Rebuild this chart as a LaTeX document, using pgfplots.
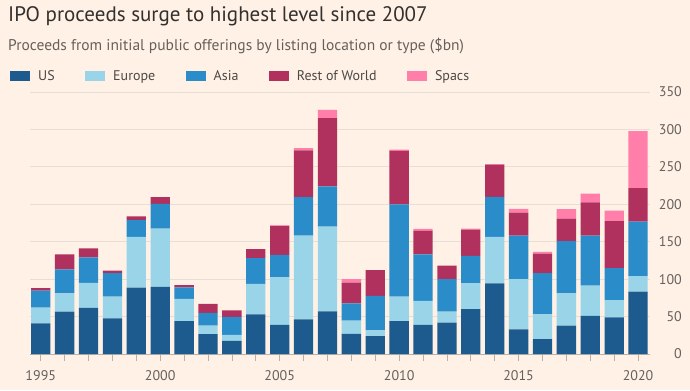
\documentclass[border=0pt]{standalone}
\usepackage{pgfplots}
\pgfplotsset{compat=1.18}
\usepackage{pgfplotstable}
\usepackage{fontspec}
\setmainfont{PT Sans}
\definecolor{bgc}{HTML}{FFF1E5}
\definecolor{cus}{HTML}{1D5A8E}
\definecolor{ceu}{HTML}{9AD4E8}
\definecolor{cas}{HTML}{2B8CCA}
\definecolor{crw}{HTML}{B0315E}
\definecolor{csp}{HTML}{FF7FAA}
\definecolor{gridc}{HTML}{E9DED5}
\definecolor{titc}{HTML}{33302E}
\definecolor{subc}{HTML}{66605C}
\definecolor{legc}{HTML}{4D4845}
\definecolor{axc}{HTML}{B8B2AC}

\pgfplotstableread{
year US Eu As RoW Sp
1995 41 21 22.7 3.3 0
1996 56.6 24.4 32 20 0
1997 61.5 33.5 34 12 0
1998 47.7 29 31.3 3.5 0
1999 88.7 67.8 22.5 5 0
2000 89.6 78 33 8.9 0
2001 44 29.6 15.4 3 0
2002 26.7 11.3 17 12 0
2003 17.4 8 24.1 8.9 0
2004 53 40.6 34.4 12 0
2005 39 63.5 29.9 38.6 0.8
2006 46.4 111.6 51.5 62.5 3
2007 57 113 54 91 11
2008 27 17.6 23.2 27.6 4.6
2009 24 7.6 46 34.4 0
2010 44 32.7 123.3 71.5 1.5
2011 39 32 62 31.5 2.5
2012 42 14.6 43.4 18 0
2013 60 34.5 36.5 35 1.6
2014 94.5 62 53.5 43 0.5
2015 33 67 58 31 5
2016 20 33 55 26 2.4
2017 38 43 69.7 30.3 12.5
2018 51 40.4 66.6 44.4 12
2019 49 23 42.6 62.8 14.3
2020 83.4 20.6 73 44.6 76.2
}\ipo

\begin{document}
\begin{tikzpicture}[x=1bp,y=1bp]
\fill[bgc] (0,0) rectangle (690,390);
\node[anchor=west, inner sep=0, text=titc, font=\fontsize{21bp}{25bp}\selectfont] at (8,374) {IPO proceeds surge to highest level since 2007};
\node[anchor=west, inner sep=0, text=subc, font=\fontsize{15.5bp}{18bp}\selectfont] at (8,344) {Proceeds from initial public offerings by listing location or type (\$bn)};
\begin{axis}[
  at={(30bp,36bp)}, anchor=south west,
  scale only axis, width=620bp, height=262bp,
  xmin=1994.55, xmax=2020.5, ymin=0, ymax=350,
  ybar stacked, bar width=19.3bp,
  axis x line*=bottom, axis y line*=right,
  y axis line style={draw=none},
  x axis line style={draw=axc, line width=0.8bp},
  xtick={1995,2000,...,2020},
  minor xtick={1995,...,2020},
  tick align=outside,
  major tick length=7bp, minor tick length=7bp,
  xtick style={draw=axc, line width=0.6bp},
  minor tick style={draw=axc, line width=0.6bp},
  ytick={0,50,...,350},
  ytick style={draw=none},
  ymajorgrids, grid style={draw=gridc, line width=0.8bp},
  yticklabel pos=right,
  /pgf/number format/assume math mode=true,
  x tick label style={/pgf/number format/1000 sep={}, font=\fontsize{14bp}{16bp}\selectfont, text=subc, yshift=-6bp},
  y tick label style={font=\fontsize{14bp}{16bp}\selectfont, text=subc, anchor=east, inner sep=0pt, xshift=25bp},
  legend columns=-1,
  legend style={at={(-0.0323,1.061)}, anchor=west, draw=none, fill=none, inner sep=0pt,
    font=\fontsize{14bp}{16bp}\selectfont, text=legc,
    /tikz/every odd column/.append style={column sep=6bp},
    /tikz/every even column/.append style={column sep=28.5bp}},
  legend image code/.code={\fill[#1] (0bp,-4.8bp) rectangle (20bp,4.8bp);},
]
\addplot[fill=cus, draw=none] table[x=year, y=US] {\ipo};
\addplot[fill=ceu, draw=none] table[x=year, y=Eu] {\ipo};
\addplot[fill=cas, draw=none] table[x=year, y=As] {\ipo};
\addplot[fill=crw, draw=none] table[x=year, y=RoW] {\ipo};
\addplot[fill=csp, draw=none] table[x=year, y=Sp] {\ipo};
\legend{US, Europe, Asia, Rest of World, Spacs}
\end{axis}
\end{tikzpicture}
\end{document}
